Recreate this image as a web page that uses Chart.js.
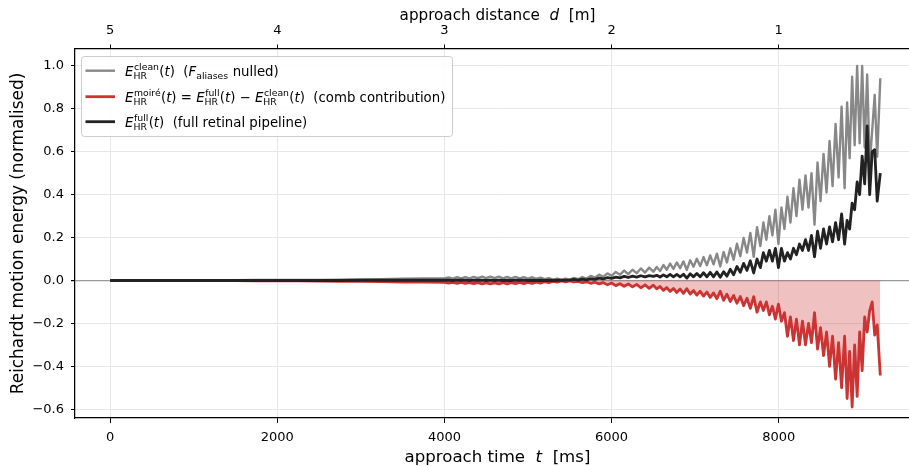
<!DOCTYPE html>
<html><head><meta charset="utf-8">
<script src="https://cdn.jsdelivr.net/npm/chart.js@4.4.1/dist/chart.umd.min.js"></script>
<style>
html,body{margin:0;padding:0;background:#fff;overflow:hidden;width:909px;height:466px}
#wrap{position:absolute;left:0;top:0;width:930px;height:466px}
</style></head>
<body><div id="wrap"><canvas id="c" width="930" height="466"></canvas></div>
<script>
// ---- data ----
const T = [
 0,250,500,750,1000,1250,1500,1750,2000,2250,2500,2750,3000,3250,3500,3750,4000,
 4050,4100,4150,4200,4250,4300,4350,4400,4450,4500,
 4550,4600,4650,4700,4750,4800,4850,4900,4950,5000,
 5050,5100,5150,5200,5250,5300,5350,5400,5450,5500,
 5550,5600,5650,5700,5750,5800,5850,5900,5950,6000,
 6050,6100,6150,6200,6250,6300,6350,6400,6450,6500,
 6540,6580,6620,6660,6700,6740,6780,6820,6860,6900,
 6940,6980,7020,7060,7100,7140,7180,7220,7260,7300,
 7340,7380,7420,7460,7500,7540,7580,7620,7660,7700,
 7740,7780,
 7816,7852,7888,7924,7960,7996,8032,8068,8104,8140,
 8176,8212,8248,8284,8320,8356,8392,8428,8464,8500,
 8536,8572,8608,8644,8680,8716,8752,8788,
 8818,8848,8878,8908,8938,8968,8998,9028,9058,9088,9118,9148,9178,9215
];
const CLEAN = [
 0,0,0,.001,.001,.001,.001,.002,.002,.002,.003,.004,.005,.006,.008,.009,.010,
 .014,.009,.015,.010,.016,.010,.017,.011,.018,.011,
 .018,.011,.018,.010,.017,.010,.017,.010,.016,.009,
 .015,.008,.013,.006,.011,.004,.009,.003,.008,.004,
 .012,.006,.016,.009,.021,.013,.027,.017,.033,.022,
 .040,.027,.046,.030,.050,.034,.056,.037,.060,.041,
 .063,.044,.072,.050,.079,.054,.084,.057,.089,.049,
 .094,.064,.101,.067,.109,.071,.117,.075,.125,.065,
 .133,.084,.150,.097,.171,.113,.198,.130,.222,.110,
 .248,.160,
 .27,.19,.30,.21,.33,.17,.34,.24,.39,.27,
 .43,.30,.47,.33,.49,.34,.50,.26,.55,.37,
 .59,.41,.65,.44,.73,.48,.81,.43,
 .83,.57,.95,.63,1.00,.64,1.00,.62,.96,.54,.70,.865,.577,.943
];
const MOIRE = [
 0,0,0,-.001,-.001,-.001,-.001,-.002,-.002,-.002,-.003,-.004,-.004,-.005,-.007,-.008,-.009,
 -.012,-.009,-.013,-.009,-.014,-.010,-.015,-.010,-.016,-.011,
 -.016,-.011,-.016,-.010,-.016,-.010,-.015,-.009,-.015,-.009,
 -.014,-.008,-.012,-.006,-.010,-.004,-.008,-.002,-.006,-.002,
 -.007,-.004,-.010,-.006,-.013,-.008,-.016,-.010,-.020,-.012,
 -.024,-.015,-.027,-.016,-.030,-.018,-.034,-.020,-.037,-.022,
 -.039,-.028,-.046,-.033,-.051,-.037,-.056,-.040,-.060,-.038,
 -.063,-.047,-.068,-.050,-.073,-.054,-.079,-.058,-.085,-.050,
 -.092,-.064,-.098,-.070,-.106,-.075,-.118,-.083,-.130,-.075,
 -.148,-.100,
 -.14,-.10,-.16,-.12,-.18,-.11,-.19,-.15,-.26,-.17,
 -.28,-.18,-.30,-.19,-.30,-.20,-.29,-.15,-.32,-.22,
 -.35,-.24,-.40,-.26,-.46,-.29,-.50,-.26,
 -.55,-.33,-.59,-.30,-.54,-.24,-.42,-.17,-.24,-.14,-.10,-.255,-.207,-.443
];
const FULL = [
 0,0,0,0,0,0,0,0,0,0,0,0,.001,.001,.001,.001,.001,
 .002,.000,.002,.001,.002,.000,.002,.001,.002,.000,
 .002,.000,.002,.000,.001,.000,.002,.001,.001,.000,
 .001,.000,.001,.000,.001,.000,.001,.001,.002,.002,
 .005,.002,.006,.003,.008,.005,.011,.007,.013,.010,
 .016,.012,.019,.014,.020,.016,.022,.017,.023,.019,
 .024,.016,.026,.017,.028,.017,.028,.017,.029,.011,
 .031,.017,.033,.017,.036,.017,.038,.017,.040,.015,
 .041,.020,.052,.027,.065,.038,.080,.047,.092,.035,
 .100,.060,
 .13,.09,.14,.09,.15,.06,.15,.09,.13,.10,
 .15,.12,.17,.14,.19,.14,.21,.11,.23,.15,
 .24,.17,.25,.18,.27,.19,.31,.17,
 .28,.24,.36,.33,.46,.40,.58,.45,.72,.40,.60,.61,.37,.50
];
const X_TICKS = [0, 2000, 4000, 6000, 8000];
const Y_TICKS = [-0.6, -0.4, -0.2, 0.0, 0.2, 0.4, 0.6, 0.8, 1.0];
const D_TICKS = [5, 4, 3, 2, 1];
const MS_PER_M = 2000;   // top axis: d = 5 - t/2000
const D_START = 5;

const FONT = "'DejaVu Sans', sans-serif";
const C_CLEAN = '#888888', C_MOIRE = '#cc3333', C_FULL = '#222222';

const X_MIN = -420, X_MAX = 9690, Y_MIN = -0.641, Y_MAX = 1.079;

const pts = arr => T.map((t, i) => ({x: t, y: arr[i]}));

// rich text helper (italic math letters, sub/superscripts)
function rich(ctx, x, y, parts, fs, draw) {
  const sfs = fs * 0.7;
  for (const p of parts) {
    if (typeof p === 'string') {
      ctx.font = `${fs}px ${FONT}`;
      if (draw) ctx.fillText(p, x, y);
      x += ctx.measureText(p).width;
    } else if (p.i !== undefined) {
      ctx.font = `italic ${fs}px ${FONT}`;
      if (draw) ctx.fillText(p.i, x, y);
      x += ctx.measureText(p.i).width;
    } else {
      ctx.font = `${sfs}px ${FONT}`;
      let w = 0;
      if (p.sup) { if (draw) ctx.fillText(p.sup, x + 0.6, y - 0.43 * fs); w = Math.max(w, ctx.measureText(p.sup).width + 0.6); }
      if (p.sub) { if (draw) ctx.fillText(p.sub, x, y + 0.24 * fs); w = Math.max(w, ctx.measureText(p.sub).width); }
      x += w + 0.3;
    }
  }
  return x;
}

const E = {i: 'E'};
const LEG_ROWS = [
  {color: C_CLEAN, width: 2.4, parts: [E, {sup: 'clean', sub: 'HR'}, '(', {i: 't'}, ')', '  (', {i: 'F'}, {sub: 'aliases'}, ' nulled)']},
  {color: C_MOIRE, width: 2.8, parts: [E, {sup: 'moiré', sub: 'HR'}, '(', {i: 't'}, ') = ', E, {sup: 'full', sub: 'HR'}, '(', {i: 't'}, ') − ', E, {sup: 'clean', sub: 'HR'}, '(', {i: 't'}, ')', '  (comb contribution)']},
  {color: C_FULL, width: 2.8, parts: [E, {sup: 'full', sub: 'HR'}, '(', {i: 't'}, ')', '  (full retinal pipeline)']}
];
const X_TITLE = ['approach time  ', {i: 't'}, '  [ms]'];
const TOP_TITLE = ['approach distance  ', {i: 'd'}, '  [m]'];
const Y_TITLE = 'Reichardt motion energy (normalised)';

const decor = {
  id: 'decor',
  afterDraw(chart) {
    const ctx = chart.ctx, a = chart.chartArea;
    ctx.save();
    ctx.fillStyle = '#000';
    ctx.textBaseline = 'alphabetic';
    ctx.textAlign = 'left';
    const cx = (a.left + a.right) / 2;
    // bottom title
    let w = rich(ctx, 0, 0, X_TITLE, 16.6, false);
    rich(ctx, cx - w / 2, 461.5, X_TITLE, 16.6, true);
    // top title
    w = rich(ctx, 0, 0, TOP_TITLE, 15.2, false);
    rich(ctx, cx - w / 2, 19.5, TOP_TITLE, 15.2, true);
    // y title
    ctx.save();
    ctx.translate(19, (a.top + a.bottom) / 2);
    ctx.rotate(-Math.PI / 2);
    ctx.font = `16.9px ${FONT}`;
    ctx.textAlign = 'center';
    ctx.textBaseline = 'middle';
    ctx.fillText(Y_TITLE, 0, 0);
    ctx.restore();
    // legend
    const bx = 81.5, by = 56.5, bw = 371, bh = 80, r = 3;
    ctx.beginPath();
    ctx.moveTo(bx + r, by); ctx.lineTo(bx + bw - r, by); ctx.quadraticCurveTo(bx + bw, by, bx + bw, by + r);
    ctx.lineTo(bx + bw, by + bh - r); ctx.quadraticCurveTo(bx + bw, by + bh, bx + bw - r, by + bh);
    ctx.lineTo(bx + r, by + bh); ctx.quadraticCurveTo(bx, by + bh, bx, by + bh - r);
    ctx.lineTo(bx, by + r); ctx.quadraticCurveTo(bx, by, bx + r, by);
    ctx.closePath();
    ctx.fillStyle = 'rgba(255,255,255,0.85)';
    ctx.fill();
    ctx.strokeStyle = '#cccccc';
    ctx.lineWidth = 1;
    ctx.stroke();
    const rowsY = [70.7, 96.7, 121.7];
    LEG_ROWS.forEach((row, k) => {
      const yy = rowsY[k];
      ctx.strokeStyle = row.color; ctx.lineWidth = row.width; ctx.lineCap = 'butt';
      ctx.beginPath(); ctx.moveTo(85.5, yy); ctx.lineTo(115, yy); ctx.stroke();
      ctx.fillStyle = '#000';
      rich(ctx, 125, yy + 5, row.parts, 13.3, true);
    });
    ctx.restore();
  }
};

const yFmt = v => (v < -1e-9 ? '\u2212' : '') + Math.abs(v).toFixed(1);

new Chart(document.getElementById('c'), {
  type: 'line',
  data: {
    datasets: [
      {label: 'clean', data: pts(CLEAN), borderColor: C_CLEAN, borderWidth: 2.4, pointRadius: 0, fill: false, order: 3, borderJoinStyle: 'round', tension: 0},
      {label: 'moire', data: pts(MOIRE), borderColor: C_MOIRE, borderWidth: 2.8, pointRadius: 0, fill: {target: 'origin'}, backgroundColor: 'rgba(204,51,51,0.3)', order: 2, borderJoinStyle: 'round', tension: 0},
      {label: 'full', data: pts(FULL), borderColor: C_FULL, borderWidth: 2.8, pointRadius: 0, fill: false, order: 1, borderJoinStyle: 'round', tension: 0}
    ]
  },
  options: {
    responsive: false, animation: false, devicePixelRatio: 1,
    layout: {padding: {left: 0, right: 10, top: 0, bottom: 0}},
    plugins: {legend: {display: false}, tooltip: {enabled: false}},
    scales: {
      x: {
        type: 'linear', axis: 'x', position: 'bottom', min: X_MIN, max: X_MAX,
        afterBuildTicks: s => { s.ticks = X_TICKS.map(v => ({value: v})); },
        afterFit: s => { s.height = 48; },
        grid: {color: '#e6e6e6', lineWidth: 1, tickColor: '#000', tickLength: 5, drawTicks: true},
        border: {color: '#000', width: 1.25},
        ticks: {font: {family: FONT, size: 13}, color: '#000', padding: 6.5, maxRotation: 0, autoSkip: false, callback: v => String(v)}
      },
      x2: {
        type: 'linear', axis: 'x', position: 'top', reverse: true,
        min: D_START - X_MAX / MS_PER_M, max: D_START - X_MIN / MS_PER_M,
        afterBuildTicks: s => { s.ticks = D_TICKS.map(v => ({value: v})); },
        afterFit: s => { s.height = 49; },
        grid: {drawOnChartArea: false, tickColor: '#000', tickLength: 4.5, drawTicks: true},
        border: {color: '#000', width: 1.25},
        ticks: {font: {family: FONT, size: 13}, color: '#000', padding: 6, maxRotation: 0, autoSkip: false, callback: v => String(v)}
      },
      y: {
        type: 'linear', position: 'left', min: Y_MIN, max: Y_MAX,
        afterBuildTicks: s => { s.ticks = Y_TICKS.map(v => ({value: v})); },
        afterFit: s => { s.width = 75; },
        grid: {
          color: c => (c.tick && Math.abs(c.tick.value) < 1e-9) ? '#999999' : '#e6e6e6',
          lineWidth: c => (c.tick && Math.abs(c.tick.value) < 1e-9) ? 1.2 : 1,
          tickColor: '#000', tickLength: 4, drawTicks: true
        },
        border: {color: '#000', width: 1.25},
        ticks: {font: {family: FONT, size: 13}, color: '#000', padding: 7, autoSkip: false, callback: v => yFmt(v)}
      }
    }
  },
  plugins: [decor]
});
</script>
</body></html>
